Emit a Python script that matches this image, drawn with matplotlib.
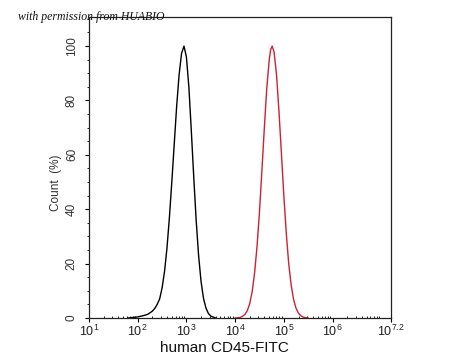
import math
import matplotlib
matplotlib.use("Agg")
import matplotlib.pyplot as plt
from matplotlib.ticker import FixedLocator, MultipleLocator

# log10 fluorescence, count (%)
black_log = [1.80, 1.90, 2.00, 2.10, 2.20, 2.30, 2.35, 2.40, 2.45, 2.50, 2.55, 2.60,
             2.65, 2.70, 2.75, 2.80, 2.85, 2.90, 2.95, 3.00, 3.05, 3.10, 3.15, 3.20,
             3.25, 3.30, 3.35, 3.40, 3.45, 3.50, 3.60]
black_cnt = [0.0, 0.2, 0.4, 0.8, 1.3, 2.5, 3.5, 5.0, 7.0, 11.0, 17.0, 25.6,
             36.8, 50.0, 64.0, 78.0, 89.5, 97.3, 100.0, 96.0, 85.0, 69.0, 52.0, 36.0,
             23.0, 13.5, 7.3, 3.7, 1.7, 0.7, 0.0]

red_log = [4.00, 4.10, 4.15, 4.20, 4.25, 4.30, 4.35, 4.40, 4.45, 4.50, 4.55, 4.60,
           4.65, 4.70, 4.73, 4.76, 4.80, 4.85, 4.90, 4.95, 5.00, 5.05, 5.10, 5.15,
           5.20, 5.25, 5.30, 5.35, 5.40, 5.50]
red_cnt = [0.0, 0.2, 0.6, 1.3, 2.7, 5.3, 9.7, 16.6, 26.4, 39.0, 54.3, 70.0,
           84.6, 95.0, 98.8, 100.0, 97.8, 89.4, 76.0, 60.6, 45.0, 31.2, 20.0, 12.2,
           6.8, 3.6, 1.8, 0.8, 0.3, 0.0]

xtick_pos = [1, 2, 3, 4, 5, 6, 7.2]
xtick_labels = ["$10^{1}$", "$10^{2}$", "$10^{3}$", "$10^{4}$", "$10^{5}$", "$10^{6}$", "$10^{7.2}$"]
ytick_pos = [0, 20, 40, 60, 80, 100]

plt.rcParams["font.family"] = ["Liberation Sans", "DejaVu Sans"]
plt.rcParams["mathtext.fontset"] = "custom"
plt.rcParams["mathtext.rm"] = "Liberation Sans"
plt.rcParams["mathtext.it"] = "Liberation Sans"

fig = plt.figure(figsize=(4.5, 3.6), dpi=100)
ax = fig.add_axes([89 / 450, 1 - 318 / 360, 302 / 450, 301 / 360])

ax.plot(black_log, black_cnt, color="black", lw=1.0)
ax.plot(red_log, red_cnt, color="#cc2233", lw=1.0)

ax.set_xlim(1, 7.2)
ax.set_ylim(0, 110.7)

ax.set_xticks(xtick_pos)
ax.set_xticklabels(xtick_labels, fontsize=9, color="#222222")
minors = [d + math.log10(k) for d in range(1, 7) for k in range(2, 10)]
minors = [m for m in minors if m < 7.2]
ax.xaxis.set_minor_locator(FixedLocator(minors))
ax.tick_params(axis="x", which="major", direction="out", length=3, width=0.8, pad=1.5)
ax.tick_params(axis="x", which="minor", direction="in", length=1.5, width=0.6)

ax.set_yticks(ytick_pos)
ax.set_yticklabels([str(v) for v in ytick_pos], fontsize=8.5, color="#333333", rotation=90, va="center")
ax.yaxis.set_minor_locator(MultipleLocator(5))
ax.tick_params(axis="y", which="major", direction="out", length=3, width=0.8, pad=5)
ax.tick_params(axis="y", which="minor", direction="out", length=1.5, width=0.6)

for s in ax.spines.values():
    s.set_linewidth(0.9)
    s.set_color("#222222")

ax.set_xlabel("human CD45-FITC", fontsize=11, color="#111111")
ax.xaxis.set_label_coords(0.45, -0.075)
ax.set_ylabel("Count  (%)", fontsize=8.5, color="#333333")
ax.yaxis.set_label_coords(-0.088, 0.45)

fig.text(18 / 450, 1 - 20 / 360, "with permission from HUABIO", fontsize=8.5,
         family="Liberation Serif", style="italic", color="#111111")

fig.savefig("out.png", dpi=100)
